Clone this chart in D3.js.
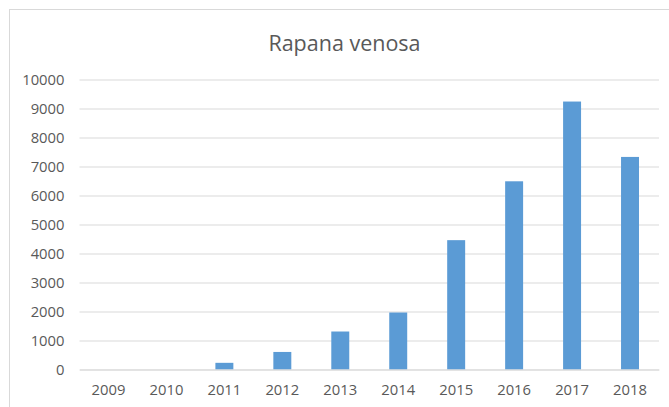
<!DOCTYPE html>
<html>
<head>
<meta charset="utf-8">
<script src="https://cdn.jsdelivr.net/npm/d3@7"></script>
<style>
  html, body { margin: 0; padding: 0; background: #fff; }
  svg { display: block; }
  text { font-family: "Open Sans", "Noto Sans", sans-serif; fill: #595959; }
</style>
</head>
<body>
<svg id="chart" width="669" height="407"></svg>
<script>
// Annual counts of Rapana venosa
const years = ["2009", "2010", "2011", "2012", "2013", "2014", "2015", "2016", "2017", "2018"];
const counts = [0, 0, 230, 605, 1310, 1965, 4460, 6490, 9240, 7330];
const yTicks = [0, 1000, 2000, 3000, 4000, 5000, 6000, 7000, 8000, 9000, 10000];
const chartTitle = "Rapana venosa";

const svg = d3.select("#chart");
const width = 669, height = 407;
const margin = { top: 79, right: 10, bottom: 38, left: 79.5 };

// Chart frame (runs past the right and bottom edges)
svg.append("rect")
  .attr("x", 9.5).attr("y", 9.5)
  .attr("width", width + 20).attr("height", height + 20)
  .attr("fill", "#fff")
  .attr("stroke", "#d9d9d9")
  .attr("stroke-width", 1);

const x = d3.scaleBand()
  .domain(years)
  .range([margin.left, 659])
  .paddingInner(0.69)
  .paddingOuter(0.345);

const y = d3.scaleLinear()
  .domain([0, 10000])
  .range([369.5, 79.5]);

// Horizontal gridlines
const yAxis = d3.axisLeft(y)
  .tickValues(yTicks)
  .tickSize(-(659 - margin.left))
  .tickPadding(15)
  .tickFormat(d3.format("d"));

const gy = svg.append("g")
  .attr("transform", `translate(${margin.left},0)`)
  .call(yAxis);
gy.select(".domain").remove();
gy.selectAll(".tick line").attr("stroke", "#d9d9d9").attr("stroke-width", 1);
gy.selectAll(".tick text")
  .attr("font-size", "14.8px")
  .attr("fill", "#595959")
  .attr("dy", "0.36em");

// Bars
svg.append("g")
  .selectAll("rect")
  .data(years.map((yr, i) => ({ yr, v: counts[i] })))
  .join("rect")
  .attr("x", d => x(d.yr))
  .attr("y", d => y(d.v))
  .attr("width", x.bandwidth())
  .attr("height", d => y(0) - y(d.v))
  .attr("fill", "#5b9bd5");

// Category axis
const xAxis = d3.axisBottom(x).tickSize(0).tickPadding(15);
const gx = svg.append("g")
  .attr("transform", `translate(0,${y(0)})`)
  .call(xAxis);
gx.select(".domain").attr("stroke", "#d9d9d9");
gx.selectAll(".tick text")
  .attr("font-size", "14.8px")
  .attr("fill", "#595959");

// Title
svg.append("text")
  .attr("x", 344.5)
  .attr("y", 51)
  .attr("text-anchor", "middle")
  .attr("font-size", "21.5px")
  .attr("fill", "#595959")
  .text(chartTitle);
</script>
</body>
</html>
